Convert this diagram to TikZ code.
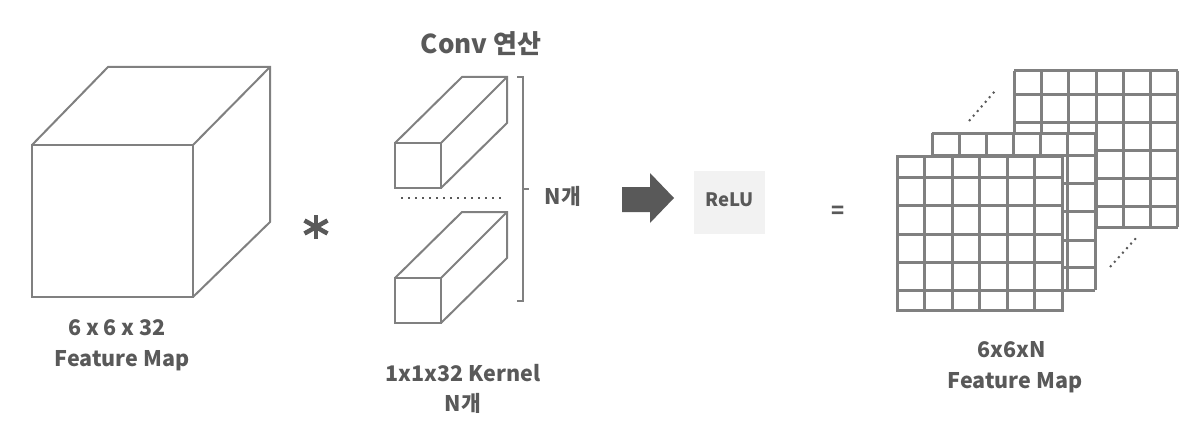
\documentclass[tikz,border=0pt]{standalone}
\usepackage{fontspec}
\setmainfont{Noto Sans CJK KR}
\begin{document}
\begin{tikzpicture}[x=1pt,y=-1pt,
  txt/.style={text=textgray,font=\bfseries\fontsize{21.5}{25}\selectfont,inner sep=0pt,align=center},
  edge/.style={draw=linegray,line width=2pt,line join=miter},
  gridline/.style={draw=linegray,line width=3pt},
  dotline/.style={draw=textgray,line width=2pt,dash pattern=on 2pt off 5pt},
  gdotline/.style={draw=textgray,line width=2pt,dash pattern=on 2pt off 4.1pt},
  starline/.style={draw=textgray,line width=4.5pt}]
\definecolor{textgray}{HTML}{595959}
\definecolor{linegray}{HTML}{808080}
\definecolor{relubg}{HTML}{F2F2F2}
\useasboundingbox (0,0) rectangle (1202,428);
% cube
\draw[edge] (32,145) rectangle (193,297);
\draw[edge] (32,145) -- (108,67) -- (270,67) -- (270,222) -- (193,297);
\draw[edge] (193,145) -- (270,67);
\node[txt] (cubea) at (117,328) {6 x 6 x 32};
\node[txt] (cubeb) at (122,361) {Feature Map};
% asterisk
\coordinate (star) at (316,227);
\draw[starline] ([yshift=-12pt]star) -- ([yshift=12pt]star);
\draw[starline] ([shift={(-11.5,-6.5)}]star) -- ([shift={(11.5,6.5)}]star);
\draw[starline] ([shift={(-11.5,6.5)}]star) -- ([shift={(11.5,-6.5)}]star);
% title
\node[txt,font=\bfseries\fontsize{26}{30}\selectfont] (title) at (481,44) {Conv 연산};
% kernel boxes
\foreach \yo in {0,135}{
  \draw[edge] (395,143+\yo) rectangle (441,188+\yo);
  \draw[edge] (395,143+\yo) -- (462,77+\yo) -- (507,77+\yo) -- (507,123+\yo) -- (441,188+\yo);
  \draw[edge] (441,143+\yo) -- (507,77+\yo);
}
\coordinate (dl) at (401,198);
\coordinate (dr) at (505,198);
\draw[dotline] (dl) -- (dr);
% bracket
\coordinate (bt) at (517,77);
\coordinate (bb) at (517,301);
\draw[draw=linegray,line width=1.2pt] (bt) -- (523,77) -- (523,301) -- (bb);
\draw[draw=linegray,line width=1.2pt] (523,189) -- (529,189);
\node[txt] (nk) at (563,196) {N개};
\node[txt] (kla) at (463,373) {1x1x32 Kernel};
\node[txt] (klb) at (463,403) {N개};
% arrow
\fill[textgray] (622,187) -- (650,187) -- (650,173) -- (674,198) -- (650,223) -- (650,212) -- (622,212) -- cycle;
% relu
\node[fill=relubg,minimum width=71pt,minimum height=63pt,inner sep=0pt] (relu) at (729.5,202.5) {};
\node[txt,font=\bfseries\fontsize{18.5}{22}\selectfont] (relut) at (729.5,200) {ReLU};
\node[txt] (eq) at (838,212) {=};
% grids
\fill[white] (1014,71) rectangle (1178,227);
\foreach \i in {0,...,6} \draw[gridline] (1014+\i*27.33,71) -- (1014+\i*27.33,227);
\foreach \y in {71,94,122.3,150,178.3,206,227} \draw[gridline] (1014,\y) -- (1178,\y);
\fill[white] (932,133) rectangle (1095,290);
\foreach \i in {0,...,6} \draw[gridline] (932+\i*27.17,133) -- (932+\i*27.17,290);
\foreach \y in {133,155.7,183.3,211.7,240,267.3,290} \draw[gridline] (932,\y) -- (1095,\y);
\fill[white] (897,156) rectangle (1062,310);
\foreach \i in {0,...,6} \draw[gridline] (897+\i*27.5,156) -- (897+\i*27.5,310);
\foreach \y in {156,177.5,205.7,234,262,290,310} \draw[gridline] (897,\y) -- (1062,\y);
\draw[gridline,line cap=rect] (897,156) rectangle (1062,310);
% dots
\coordinate (d1a) at (969,121);
\coordinate (d1b) at (995,91);
\coordinate (d2a) at (1110,267);
\coordinate (d2b) at (1137,237);
\draw[gdotline] (d1a) -- (d1b);
\draw[gdotline] (d2a) -- (d2b);
\node[txt] (oa) at (1012,350) {6x6xN};
\node[txt] (ob) at (1015,383) {Feature Map};
\end{tikzpicture}
\end{document}
